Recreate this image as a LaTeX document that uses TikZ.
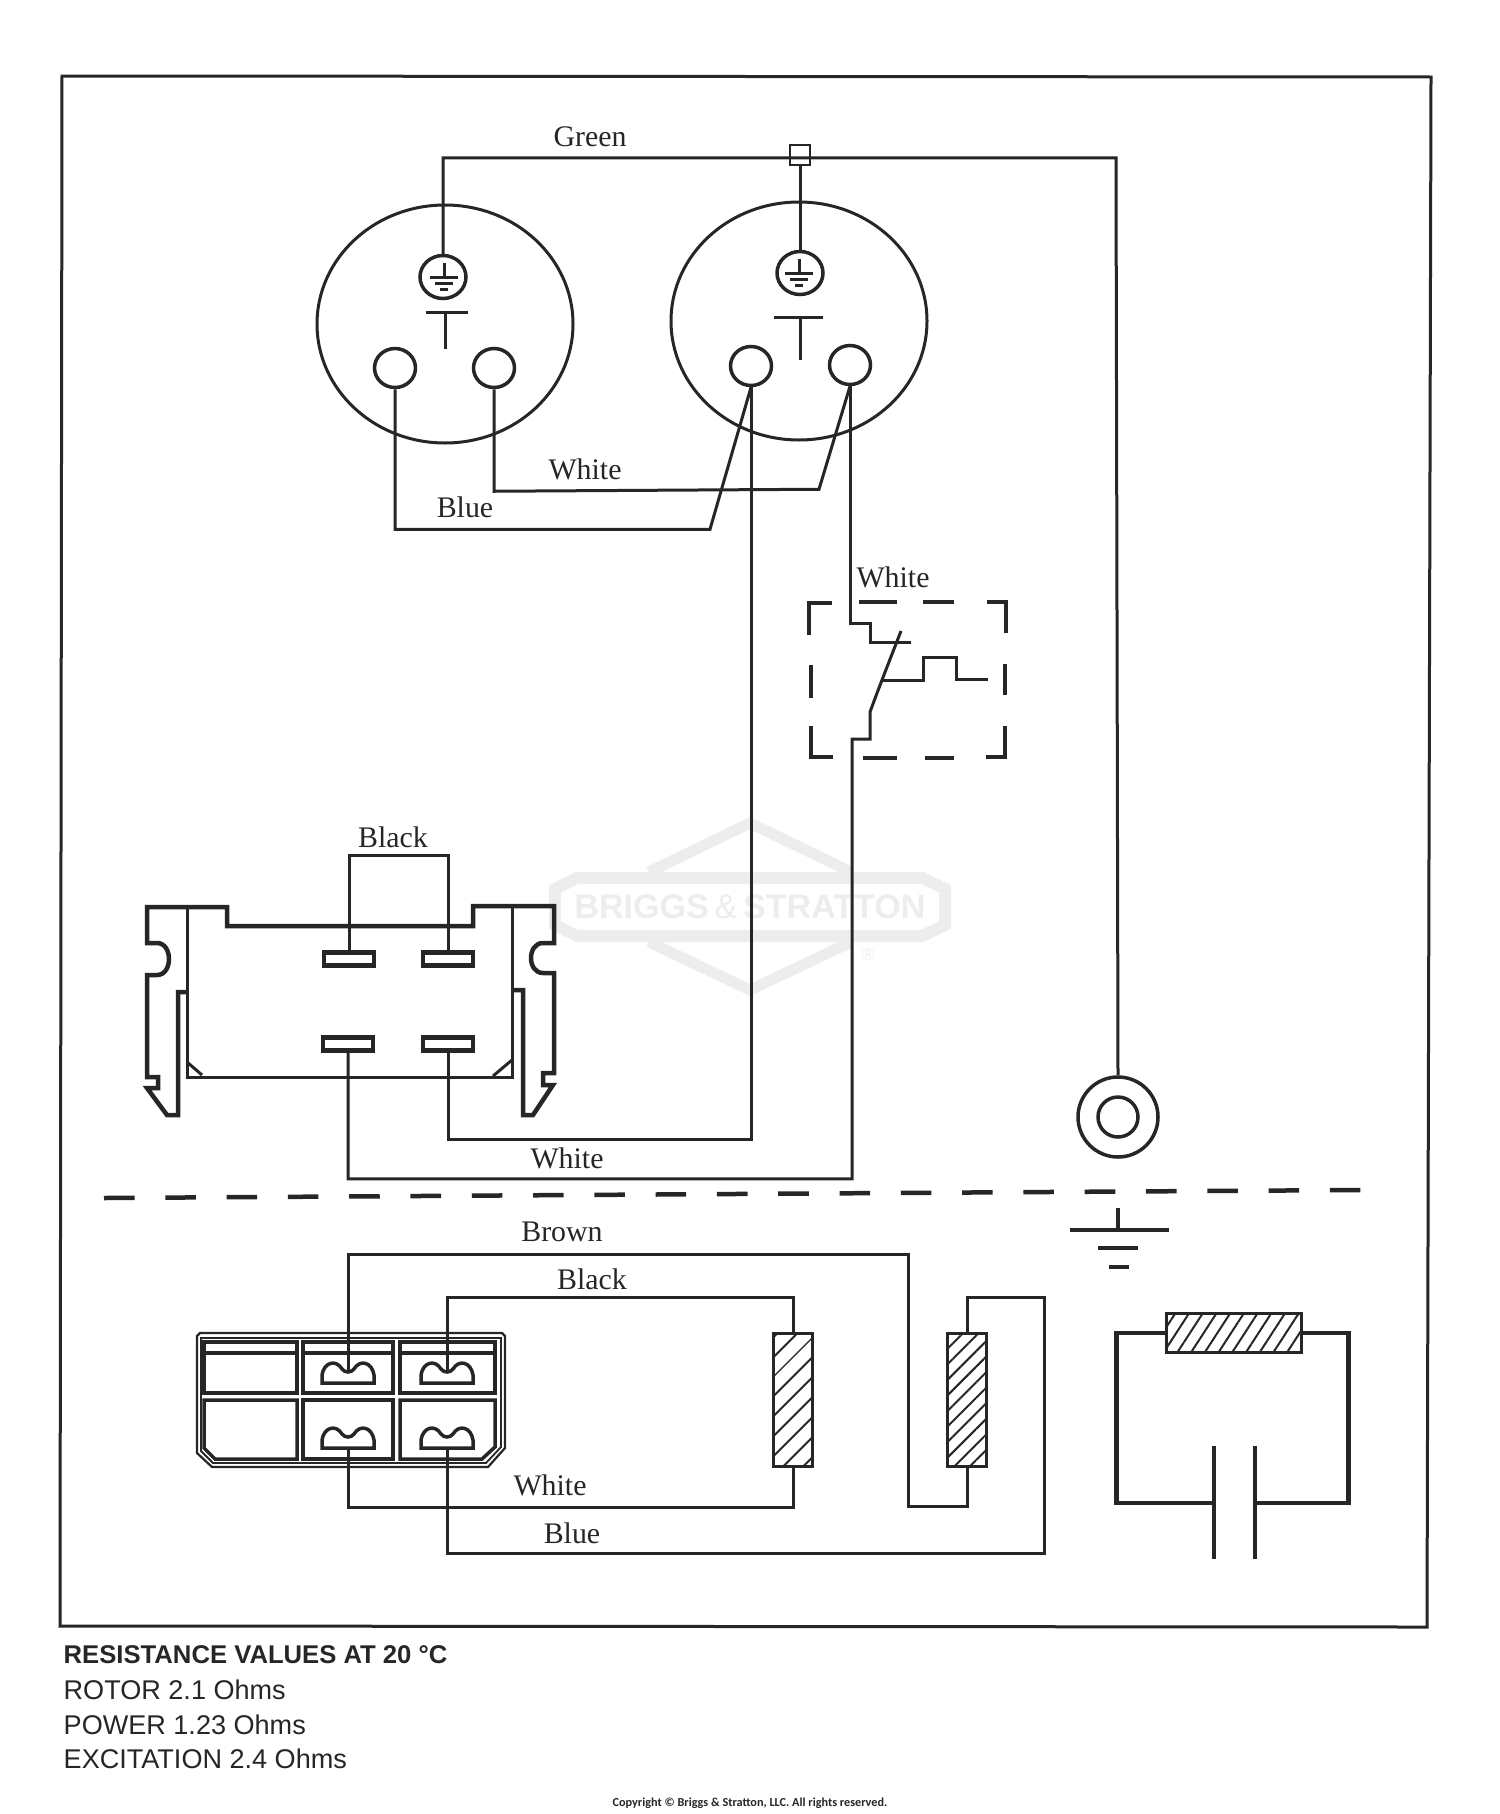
\documentclass[tikz,border=0pt]{standalone}
\usepackage{fontspec}
\setmainfont{Liberation Serif}
\setsansfont{Liberation Sans}
\newfontfamily\copyfont{Carlito}
\usetikzlibrary{shapes.geometric,patterns.meta}
\definecolor{ink}{gray}{0.15}
\definecolor{brandgray}{gray}{0.93}
\tikzset{
  wire/.style={line width=0.3mm,color=ink},
  body/.style={line width=0.45mm,color=ink},
  cell/.style={line width=0.35mm,color=ink},
  lbl/.style={font=\fontsize{8.5pt}{10pt}\selectfont,text=ink,inner sep=0pt},
  note/.style={font=\sffamily\fontsize{7.7pt}{9pt}\selectfont,text=ink,inner sep=0pt,anchor=west},
  socket/.style={ellipse,draw=ink,line width=0.3mm,inner sep=0pt,minimum width=25.6mm,minimum height=23.8mm},
  pole/.style={ellipse,draw=ink,line width=0.35mm,inner sep=0pt,minimum width=4.1mm,minimum height=3.9mm},
  gndring/.style={ellipse,draw=ink,line width=0.35mm,inner sep=0pt,minimum width=4.6mm,minimum height=4.3mm},
  blade/.style={rectangle,draw=ink,line width=0.45mm,inner sep=0pt,minimum width=5mm,minimum height=1.3mm},
  coil/.style={rectangle,draw=ink,line width=0.35mm,inner sep=0pt,minimum width=3.9mm,minimum height=13.3mm},
  gndmark/.pic={
    \draw[wire] (0,-14) -- (0,0);
    \draw[wire] (-14,0) -- (14,0);
    \draw[wire] (-9,6) -- (9,6);
    \draw[wire] (-4,12) -- (4,12);
  },
  clipterm/.pic={
    \draw[cell] (-26,0) -- (-26,-8) .. controls (-24,-21) and (-12,-24) .. (-6,-14)
      .. controls (-3,-10) and (3,-10) .. (6,-14)
      .. controls (12,-24) and (24,-21) .. (26,-8) -- (26,0) -- cycle;
    \coordinate (-dip) at (0,-10);
    \coordinate (-foot) at (0,0);
  },
}
\begin{document}
\begin{tikzpicture}[x=0.1mm,y=-0.1mm]
  \useasboundingbox (0,0) rectangle (1500,1814);
  \draw[brandgray,line width=1.2mm] (555,889) -- (577,878) -- (923,878) -- (945,889) -- (945,925) -- (922,936) -- (577,936) -- (555,925) -- cycle;
  \draw[brandgray,line width=1.1mm] (649,872) -- (750,823) -- (851,872);
  \draw[brandgray,line width=1.1mm] (649,942) -- (750,990) -- (851,942);
  \node[text=brandgray,inner sep=0pt,font=\sffamily\bfseries\fontsize{9.7pt}{11pt}\selectfont] (brand) at (750,907) {BRIGGS\,{\mdseries\&}\,STRATTON};
  \node[text=brandgray,inner sep=0pt,font=\sffamily\fontsize{5pt}{6pt}\selectfont] (brandr) at (868,954) {®};

  \draw[wire] (62,76) -- (1431,77) -- (1427,1627) -- (60,1626) -- cycle;

  \node[socket] (sockA) at (445,324) {};
  \node[socket] (sockB) at (799,321) {};
  \node[gndring] (gndA) at (443,277) {};
  \node[gndring] (gndB) at (800,273) {};
  \pic at (444,277) {gndmark};
  \pic at (799,273) {gndmark};
  \node[pole] (poleA) at (395,368) {};
  \node[pole] (poleB) at (494,368) {};
  \node[pole] (poleC) at (751,366) {};
  \node[pole] (poleD) at (850,365) {};
  \draw[wire] (426,312) -- (468,312) (445,312) -- (445,349);
  \draw[wire] (774,317) -- (823,317) (800,317) -- (800,360);

  \node[rectangle,draw=ink,line width=0.25mm,inner sep=0pt,minimum size=2mm] (splice) at (800,155) {};
  \node[circle,draw=ink,line width=0.35mm,inner sep=0pt,minimum size=8mm] (ring) at (1118,1117) {};
  \node[circle,draw=ink,line width=0.35mm,inner sep=0pt,minimum size=4mm] (ringin) at (1118,1117) {};
  \draw[wire] (gndA.north) -- ++(0,-96) -- ++(673,0) -- (ring.north);
  \draw[wire] (splice.south) -- (gndB.north);
  \draw[wire] (poleA.south) -- ++(0,140) -- ++(315,0) -- (poleC.south);
  \draw[wire] (poleB.south) -- ++(0,102) -- ++(325,-2) -- (poleD.south);

  \draw[body] (832,603) -- (809,603) -- (809,635);
  \draw[body] (811,665) -- (811,698);
  \draw[body] (811,726) -- (811,757) -- (833,757);
  \draw[body] (987,602) -- (1006,602) -- (1006,633);
  \draw[body] (1005,664) -- (1005,695);
  \draw[body] (1005,726) -- (1005,757) -- (986,757);
  \foreach \xa/\xb in {859/897,923/954} \draw[body] (\xa,602) -- (\xb,602);
  \foreach \xa/\xb in {863/897,925/954} \draw[body] (\xa,758) -- (\xb,758);
  \coordinate (swfoot) at (852,739);
  \coordinate (swtip) at (901,631);
  \draw[wire] (poleD.south) -- ++(0,237) -- ++(20,0) -- ++(0,19) -- ++(41,0);
  \draw[wire] (883,680) -- ++(40,0) -- ++(0,-23) -- ++(33,0) -- ++(0,22) -- ++(32,0);

  \draw[body] (187,907) -- (147,907) -- (147,943) -- (157,943) .. controls (173,943) and (173,975) .. (157,975) -- (147,975) -- (147,1077) -- (158,1077) -- (158,1088) -- (147,1088) -- (167,1115) -- (178,1115) -- (178,992) -- (187,992);
  \draw[body] (187,907) -- (227,907) -- (227,926) -- (473,926) -- (473,906) -- (554,906) -- (554,943) -- (543,943) .. controls (527,943) and (527,973) .. (543,973) -- (554,973) -- (554,1073) -- (543,1073) -- (543,1085) -- (553,1085) -- (533,1115) -- (523,1115) -- (523,990) -- (512,990);
  \draw[wire] (187,907) -- (187,1077) -- (512,1077) -- (512,906);
  \draw[wire] (187,1062) -- (202,1075) (512,1060) -- (493,1076);
  \node[blade] (bladeA) at (349,959) {};
  \node[blade] (bladeB) at (448,959) {};
  \node[blade] (bladeC) at (348,1044) {};
  \node[blade] (bladeD) at (448,1044) {};
  \draw[wire] (bladeA.north) -- ++(0,-95) -| (bladeB.north);
  \draw[wire] (bladeD.south) -- ++(0,87) -| (poleC.south);
  \draw[wire] (bladeC.south) -- ++(0,126) -| (swfoot) -- ++(18,0) -- ++(0,-27) .. controls (880,685) .. (swtip);

  \draw[dash pattern=on 8.7pt off 8.74pt,body] (104,1198) -- (1362,1190);
  \coordinate (earth) at (1118,1208);
  \draw[body] (earth) -- ++(0,22);
  \draw[body] (1070,1230) -- (1169,1230);
  \draw[body] (1098,1248) -- (1138,1248);
  \draw[body] (1109,1267) -- (1129,1267);

  \draw[line width=0.22mm,color=ink] (197,1336) -- (200,1333) -- (502,1333) -- (505,1336) -- (505,1448) -- (488,1467) -- (212,1467) -- (197,1453) -- cycle;
  \draw[line width=0.18mm,color=ink] (201,1338) -- (501,1338) -- (501,1447) -- (486,1463) -- (213,1463) -- (201,1451) -- cycle;
  \draw[cell] (204,1342) rectangle (297,1393);
  \draw[cell] (303,1342) rectangle (393,1393);
  \draw[cell] (400,1342) rectangle (495,1393);
  \draw[cell] (204,1353) -- (297,1353) (303,1353) -- (393,1353) (400,1353) -- (495,1353);
  \draw[cell] (204,1400) -- (297,1400) -- (297,1459) -- (215,1459) -- (204,1448) -- cycle;
  \draw[cell] (303,1400) rectangle (393,1459);
  \draw[cell] (400,1400) -- (495,1400) -- (495,1447) -- (482,1459) -- (400,1459) -- cycle;
  \pic (clipA) at (348,1383) {clipterm};
  \pic (clipB) at (447,1383) {clipterm};
  \pic (clipC) at (348,1448) {clipterm};
  \pic (clipD) at (447,1448) {clipterm};

  \node[coil,pattern color=ink,pattern={Lines[angle=45,distance=1.4mm,line width=0.2mm]}] (coilA) at (793,1400) {};
  \node[coil,pattern color=ink,pattern={Lines[angle=45,distance=1.1mm,line width=0.2mm]}] (coilB) at (967,1400) {};
  \node[coil,minimum width=13.5mm,minimum height=3.9mm,pattern color=ink,pattern={Lines[angle=57,distance=1.15mm,line width=0.2mm]}] (coilC) at (1234,1333) {};
  \draw[wire] (clipA-dip) -- ++(0,-119) -- ++(560,0) -- ++(0,252) -- ++(59,0) -- (coilB.south);
  \draw[wire] (clipB-dip) -- ++(0,-76) -| (coilA.north);
  \draw[wire] (clipC-foot) -- ++(0,59) -| (coilA.south);
  \draw[wire] (clipD-foot) -- ++(0,105) -- ++(597,0) -- ++(0,-256) -| (coilB.north);
  \coordinate (capL) at (1214,1503);
  \coordinate (capR) at (1255,1503);
  \draw[body] (coilC.west) -- ++(-49,0) |- (capL);
  \draw[body] (coilC.east) -- ++(46,0) |- (capR);
  \draw[body] (capL) ++(0,-57) -- ++(0,113);
  \draw[body] (capR) ++(0,-57) -- ++(0,113);

  \node[lbl] (lblGreen) at (590,137) {Green};
  \node[lbl] (lblWhiteA) at (585,469) {White};
  \node[lbl] (lblBlueA) at (465,507) {Blue};
  \node[lbl] (lblWhiteB) at (893,577) {White};
  \node[lbl] (lblBlackA) at (393,837) {Black};
  \node[lbl] (lblWhiteC) at (567,1158) {White};
  \node[lbl] (lblBrown) at (562,1232) {Brown};
  \node[lbl] (lblBlackB) at (592,1279) {Black};
  \node[lbl] (lblWhiteD) at (550,1485) {White};
  \node[lbl] (lblBlueB) at (572,1533) {Blue};

  \node[note,font=\sffamily\bfseries\fontsize{7.3pt}{9pt}\selectfont] (noteHead) at (63,1655) {RESISTANCE VALUES AT 20 °C};
  \node[note] (noteRotor) at (63,1690) {ROTOR 2.1 Ohms};
  \node[note] (notePower) at (63,1725) {POWER 1.23 Ohms};
  \node[note] (noteExc) at (63,1759) {EXCITATION 2.4 Ohms};
  \node[inner sep=0pt,text=ink,font=\copyfont\bfseries\fontsize{3.48pt}{4pt}\selectfont] (noteCopy) at (750,1803) {Copyright © Briggs \& Stratton, LLC. All rights reserved.};
\end{tikzpicture}
\end{document}
